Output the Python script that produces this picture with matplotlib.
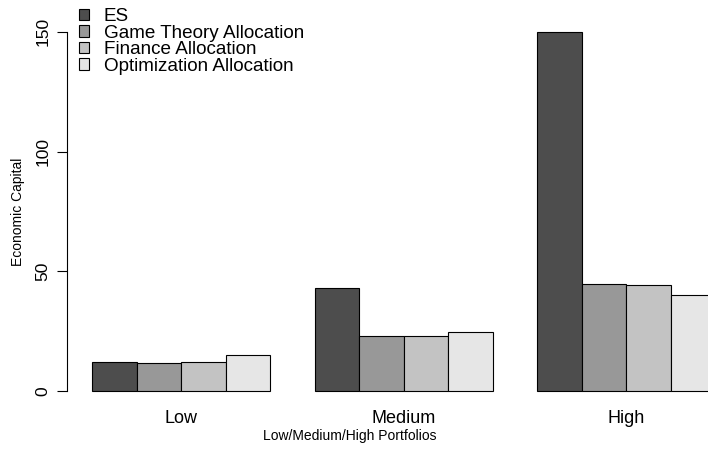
import numpy as np
import matplotlib
matplotlib.use("Agg")
import matplotlib.pyplot as plt

plt.rcParams['font.family'] = ['Liberation Sans', 'DejaVu Sans']

# economic capital by portfolio risk level
groups = ["Low", "Medium", "High"]
series_names = ["ES", "Game Theory Allocation", "Finance Allocation", "Optimization Allocation"]
es = [12.0, 42.9, 149.9]
game_theory = [11.7, 22.8, 44.6]
finance = [12.0, 23.1, 44.1]
optimization = [14.9, 24.5, 40.0]
colors = ["#4D4D4D", "#989898", "#C3C3C3", "#E6E6E6"]

series = [es, game_theory, finance, optimization]
n_series = len(series)

fig = plt.figure(figsize=(7.08, 4.59), dpi=100)
# plot region runs past the right edge of the figure
ax = fig.add_axes([0.0948, 0.1168, 0.9503, 0.845])

# R-style beside barplot: one unit gap before each group
group_starts = np.arange(len(groups)) * (n_series + 1) + 1
for i, (vals, name, col) in enumerate(zip(series, series_names, colors)):
    ax.bar(group_starts + i, vals, width=1, align='edge', color=col,
           edgecolor='black', linewidth=0.8, label=name)

ax.set_xlim(0.44, 15.56)
ax.set_ylim(-6, 156)

for side in ["top", "right", "bottom"]:
    ax.spines[side].set_visible(False)
ax.spines["left"].set_bounds(0, 150)
ax.spines["left"].set_linewidth(0.8)

ax.set_yticks([0, 50, 100, 150])
ax.tick_params(axis='y', length=7, width=0.8, pad=5, labelsize=12.5, labelrotation=90)
for lbl in ax.get_yticklabels():
    lbl.set_verticalalignment('center')

ax.set_xticks(group_starts + n_series / 2)
ax.set_xticklabels(groups)
ax.tick_params(axis='x', length=0, pad=3, labelsize=13)

ax.set_xlabel("Low/Medium/High Portfolios", fontsize=10, va='center')
ax.xaxis.set_label_coords(0.4205, -0.079)
ax.set_ylabel("Economic Capital", fontsize=10, va='center')
ax.yaxis.set_label_coords(-0.073, 0.5)

ax.legend(loc='upper left', bbox_to_anchor=(79 / 708, 1 - 8 / 459),
          bbox_transform=fig.transFigure, frameon=False, fontsize=13.6,
          handlelength=0.55, handleheight=0.55, handletextpad=0.75,
          labelspacing=-0.02, borderpad=0, borderaxespad=0)

fig.savefig("out.png", dpi=100)
